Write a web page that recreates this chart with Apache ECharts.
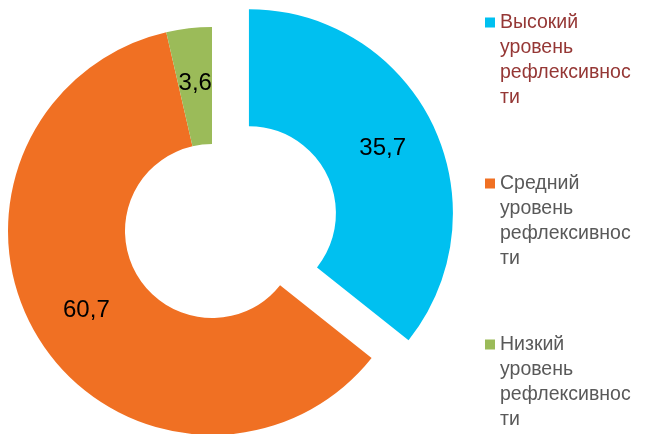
<!DOCTYPE html>
<html>
<head>
<meta charset="utf-8">
<script src="https://cdn.jsdelivr.net/npm/echarts@6/dist/echarts.min.js"></script>
<style>html,body{margin:0;padding:0;background:#fff}#c{width:646px;height:434px}</style>
</head>
<body>
<div id="c"></div>
<script>
const categories = ['Высокий уровень рефлексивности', 'Средний уровень рефлексивности', 'Низкий уровень рефлексивности'];
const legendLines = [
  'Высокий\nуровень\nрефлексивнос\nти',
  'Средний\nуровень\nрефлексивнос\nти',
  'Низкий\nуровень\nрефлексивнос\nти'
];
const values = [35.7, 60.7, 3.6];
const colors = ['#00C0F0', '#F07023', '#9BBB59'];
const legendColors = ['#953735', '#595959', '#595959'];

const chart = echarts.init(document.getElementById('c'), null, {renderer: 'canvas'});
const iconPath = 'path://M0,7.5h10v10h-10z M0,0h0.01v0.01h-0.01z M9.99,99.99h0.01v0.01h-0.01z';
chart.setOption({
  animation: false,
  backgroundColor: '#fff',
  legend: {
    orient: 'vertical',
    left: 485,
    top: 10,
    padding: 0,
    itemWidth: 10,
    itemHeight: 100,
    itemGap: 61,
    icon: iconPath,
    selectedMode: false,
    formatter: function (name) { return legendLines[categories.indexOf(name)]; },
    textStyle: { fontFamily: 'Liberation Sans, Arial, sans-serif', fontSize: 19.5, lineHeight: 25, color: '#595959' },
    data: categories.map((n, i) => ({ name: n, textStyle: { color: legendColors[i] } }))
  },
  series: [{
    type: 'pie',
    center: [212, 231],
    radius: [87, 204],
    startAngle: 90,
    clockwise: true,
    selectedMode: 'single',
    selectedOffset: 41,
    avoidLabelOverlap: false,
    emphasis: { disabled: true },
    itemStyle: { borderWidth: 0 },
    label: {
      show: true,
      position: 'inside',
      fontFamily: 'Liberation Sans, Arial, sans-serif',
      fontSize: 24,
      color: '#000',
      formatter: function (p) { return String(p.value).replace('.', ','); }
    },
    labelLine: { show: false },
    data: categories.map((n, i) => ({
      name: n,
      value: values[i],
      selected: i === 0,
      itemStyle: { color: colors[i] },
      select: { itemStyle: { color: colors[i], borderWidth: 0 } }
    }))
  }]
});
</script>
</body>
</html>
